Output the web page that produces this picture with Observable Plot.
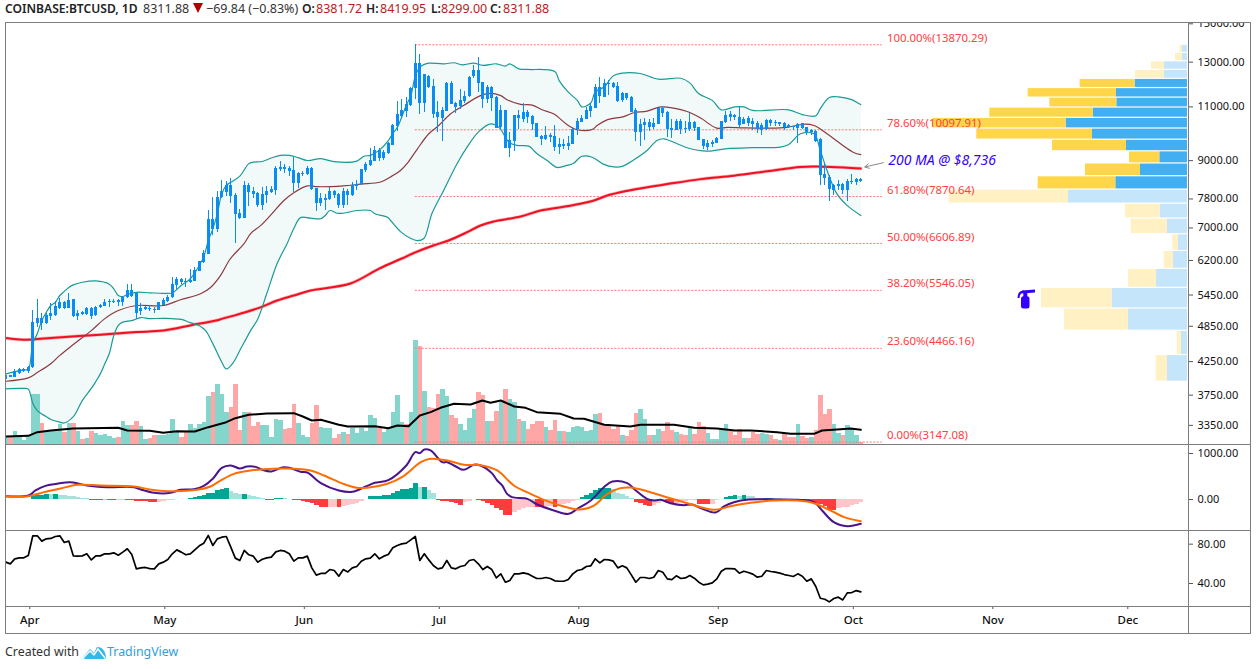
<!DOCTYPE html>
<html><head><meta charset="utf-8">
<script src="https://cdn.jsdelivr.net/npm/d3@7"></script>
<script src="https://cdn.jsdelivr.net/npm/@observablehq/plot@0.6"></script>
<style>
html,body{margin:0;padding:0;background:#fff;overflow:hidden}
#chart{position:relative;width:1258px;height:669px;font-family:"Noto Sans",sans-serif}
.abs{position:absolute}
.line{position:absolute;background:#7d7d7d}
#head{position:absolute;left:0;top:0;width:1258px;height:22px;background:#fff;z-index:5}
#head span{position:absolute;top:0;line-height:17px;font-size:12.5px;white-space:nowrap;color:#333}
#head .b{font-weight:600;color:#222;font-size:12.1px}
#head .r{color:#b71c1c}
</style></head><body><div id="chart"></div>
<script>
// Days are counted from 1 April 2019; candles run from 27 March (-5) to 3 October (185).
const firstDay = -5;
const high = [4050,4040,4125,4145,4135,4175,5143,5358,5080,5090,5270,5325,5370,5310,5490,5360,5143,5130,5200,5210,5230,5265,5350,5365,5360,5365,5410,5660,5660,5500,5275,5230,5240,5195,5305,5375,
5440,5825,5825,5795,5790,5995,6030,6185,6434,7470,7850,8020,8357,8335,8410,7960,7490,8335,8270,8130,8000,8150,8165,8185,8820,8970,8875,8790,9090,8620,8650,8820,
8770,8110,7955,7925,8130,8060,7960,8100,8070,8280,8357,8720,8940,9415,9490,9415,9335,9640,10290,11240,11300,11380,11830,13870,13400,12420,12360,12200,
11220,10960,12060,12100,11190,11740,11670,12310,12840,13210,12070,11900,11880,11420,11060,10870,10010,10650,10860,11130,10855,10650,10340,9900,10240,9950,10260,9770,9730,9850,10180,
10520,10650,10960,11120,11950,12270,12180,12141,12070,12030,11620,11580,11430,10920,10480,10540,10480,10540,10950,11000,10820,10480,10480,10500,10420,10730,10420,10190,9750,9700,9700,9820,
10430,10830,10830,10680,11020,10580,10610,10550,10420,10330,10490,10490,10456,10390,10380,10300,10240,10330,10350,10180,10110,10080,9790,8910,8510,8235,8357,8250,8400,8540,8430,8419.95];
const bodyTop = [4030,4030,4100,4120,4125,4155,4925,4985,4995,5040,5080,5220,5300,5295,5340,5350,5085,5100,5190,5190,5210,5250,5300,5310,5325,5340,5395,5540,5540,5490,5175,5195,5190,5170,5290,5340,
5395,5660,5765,5765,5740,5750,5970,6175,6365,7220,7220,7840,8010,8200,8210,7910,7380,8205,8205,8030,7970,7930,8020,8080,8740,8760,8780,8740,8675,8590,8590,8730,
8745,8100,7800,7800,8020,8010,7940,8020,8010,8200,8230,8700,8880,9005,9350,9350,9275,9585,10260,10695,10855,11090,11800,12950,12950,12400,12340,11890,
10770,10850,12020,12020,11155,11270,11450,12270,12600,12600,12060,11810,11840,11400,10855,10855,9700,10650,10650,10780,10780,10600,10330,9850,9890,9900,9850,9550,9560,9600,10120,
10420,10520,10855,11000,11840,11840,11990,12010,12010,11870,11580,11570,11410,10855,10300,10390,10390,10350,10940,10940,10780,10140,10420,10420,10140,10390,10380,10180,9740,9600,9640,9780,
10420,10670,10680,10640,10580,10490,10520,10420,10350,10260,10470,10456,10390,10370,10340,10260,10220,10300,10330,10170,10070,10040,9730,8540,8460,8210,8230,8230,8325,8325,8400,8381.72];
const bodyBottom = [3970,4010,4010,4070,4095,4090,4150,4905,4905,4905,5035,5040,5190,5180,5190,5025,5025,5060,5060,5030,5040,5210,5230,5290,5295,5295,5305,5390,5410,5085,5130,5155,5155,5150,5150,5250,
5325,5390,5650,5710,5700,5700,5730,5955,6150,6350,6960,6960,7840,7990,7870,7360,7240,7250,8000,7940,7620,7620,7900,7985,8050,8700,8720,8640,8260,8270,8540,8560,
8075,7675,7660,7770,7780,7910,7620,7620,7900,7910,8165,8220,8675,8830,8985,9060,9060,9230,9530,10210,10630,10825,11040,11770,11150,11150,11810,10700,
10560,10550,10825,11090,10960,11000,11240,11450,12300,12020,11300,11300,11370,10140,10180,9410,9430,9670,10520,10480,10570,10300,9810,9750,9750,9800,9470,9470,9490,9490,9570,
10100,10370,10490,10825,10940,11450,11410,11950,11840,11240,11270,11340,10780,9990,9990,10260,10180,10180,10300,10730,10100,10070,10070,10100,10100,10110,10140,9700,9490,9470,9560,9600,
9750,10370,10580,10560,10260,10300,10350,10290,10100,10070,10100,10350,10340,10300,10190,10180,10180,10150,10150,9980,9980,9670,8510,8410,8075,8050,8170,8050,8050,8290,8300,8311.88];
const low = [3920,4000,4005,4050,4080,4070,4140,4820,4770,4880,4954,5030,5170,5165,5180,5010,4954,5040,5045,4965,5030,5180,5225,5195,5275,5220,5220,5380,5390,4965,5045,5143,5125,5080,5140,5240,
5300,5380,5555,5660,5600,5690,5725,5945,6140,6340,6800,6890,7810,7860,7675,6610,7225,7240,7590,7800,7550,7470,7660,7950,7900,8650,8570,8480,7980,8100,8490,8530,
8060,7450,7580,7470,7770,7820,7530,7530,7620,7885,8051,8210,8620,8820,8965,8960,8995,9220,9520,10050,10520,10580,11030,11300,10700,10780,11790,10550,
10010,9680,10810,11080,10730,10910,11160,11410,12220,11620,10940,11120,10810,10130,10100,9400,9090,9325,10100,10370,10330,10070,9800,9520,9710,9640,9310,9200,9370,9348,9550,
9880,10360,10480,10580,10930,11120,11400,11470,11770,11170,11190,11270,10770,9680,9490,9700,10030,10100,10290,10580,9810,9770,10060,9920,9960,10040,10040,9690,9370,9330,9450,9590,
9740,10330,10400,10456,10190,10290,10240,10073,9950,9890,10090,10210,10230,10230,10073,10140,10073,9580,10100,9890,9890,9640,8200,8200,7735,7900,8051,7935,7735,8230,8200,8299];

const volume = [24,20,39,24,12,24,149,150,63,39,39,39,60,37,62,62,39,15,19,39,33,27,30,25,19,21,69,57,57,69,54,15,19,26,26,26,
29,75,37,21,37,60,47,60,66,145,156,180,150,96,111,180,42,96,96,54,65,57,57,21,75,72,45,49,120,63,27,22,
63,116,51,49,48,18,30,36,30,49,33,49,39,87,78,49,36,45,96,146,66,59,96,312,294,159,111,109,
150,165,144,87,78,60,42,78,105,156,147,69,69,99,126,165,135,126,75,69,45,60,69,69,51,42,72,39,39,36,50,
54,50,39,42,90,93,60,54,45,57,27,24,42,93,105,75,27,27,45,39,66,42,36,30,27,51,30,66,54,33,15,15,
42,60,39,27,45,18,18,36,30,33,30,27,15,12,33,21,21,60,24,18,21,42,147,90,105,60,33,27,57,45,27,7];
const volumeColors = [
"t","r","t","t","t","t","t","t","r","t","t","t","t","r","t","r","t","r","t","r","t","t","t","t","t","r","t","t","r","r","t","t","r","r","t","t",
"t","t","t","r","r","t","t","t","t","t","r","t","t","t","r","r","r","t","r","r","r","t","t","t","t","t","r","r","r","t","t","t",
"r","r","t","t","t","r","r","t","r","t","t","t","t","t","t","r","t","t","t","t","t","r","t","t","r","t","r","r",
"r","t","t","r","r","t","t","t","t","r","r","t","r","r","t","r","t","t","r","t","r","r","r","r","t","r","r","t","r","t","t",
"t","t","t","t","t","r","r","r","r","r","t","r","r","r","t","t","r","t","t","r","r","r","t","r","r","t","r","r","r","t","t","t",
"t","t","r","r","r","t","r","r","r","t","t","r","r","t","r","r","r","t","r","r","t","r","r","r","r","t","t","r","t","t","t","r"];
const volumeAvgDays = [-5,0,2,5,10,20,22,27,30,33,37,40,44,46,49,53,59,61,63,65,69,71,77,80,82,84.5,87,89.4,91.6,94.6,98.3,100.9,102.7,105,108,110.5,113,118.3,121.2,123.5,128,133.8,136,143.5,148,153,157,160.5,166.4,169.4,174.6,176.4,180.5,182.7,185];
const volumeAvg = [24,26,37,42,48,50,42,41,35,40,39,52,67,79,89,93,94,84,72,74,59,54,55,49,57,55,87,97,110,122,120,132,125,132,114,110,97,92,78,77,59,54,59,59,50,48,42,42,37,32,32,42,46,48,44];

const upperDays = [-5,-1,0,1,2,3,4,5,6,7,8,9,10,12,15,18,19,20,21,22,24,27,30,32,34,36,38,39,40,41,42,43,44,45,47,49,50,52,54,56,58,60,62,65,68,73,74.6,76,78,80,81,82,84,85,86,87,88,89,92.3,94.6,96.4,99,101,104,106,107,109,111,117,118,120,122,123,125,126,128,130,132,136,140,145,147,149,152,154,157,159,161,169,172,175,176,178,180,183,185];
const upperBand = [4060,4120,4130,4545,4720,4954,5110,5240,5300,5440,5525,5605,5660,5715,5745,5675,5575,5440,5420,5460,5505,5495,5485,5495,5650,5790,6085,6290,6680,6975,7380,7955,8205,8300,8495,8900,8950,8970,9090,9180,9180,9100,9005,9065,8965,8985,9150,9180,9360,9700,9965,10190,11065,11470,12340,12750,12890,12950,12920,12970,12870,12950,12840,12920,12810,12920,12680,12650,12550,12120,11620,11270,11000,11160,11630,11860,12350,12480,12460,12200,12240,12030,11550,11270,10880,11000,11000,10855,10880,10690,10640,10930,11390,11420,11300,11090];
const lowerDays = [-5,-1,0,1,2,4,5,7,8,10,12,14,15,16,17,18,19,20,21,23,25,27,30,34,36,38,39.4,41,43,44,45.6,47,49.4,51,53,55.3,57.5,59,60.5,62.7,65,66,67,68.6,70,73,76,77,79.8,80.5,82.7,85,86.4,87.9,89.7,92.3,95.3,97.5,100,102.7,104.6,106.8,108.6,111.2,113,115.3,117.5,119.7,121.2,123,125.3,127.9,130.1,132,134.6,137.5,139.7,141.2,144.2,146.4,150.8,155.3,161.2,167.1,169,171.6,174.6,176,177.5,179.7,182,185];
const lowerBand = [3840,3845,3835,3635,3540,3460,3425,3390,3380,3460,3675,3845,3945,4060,4215,4380,4685,4865,4925,4954,5010,4990,4995,4975,4915,4860,4772,4545,4240,4135,4240,4429,4772,4985,5480,6130,6600,6985,7275,7260,7245,7335,7471,7395,7395,7471,7471,7380,7285,7197,6905,6730,6679,6730,7390,8051,8905,9465,10010,10325,10190,9640,9525,9500,9245,9005,8775,8840,8915,9150,9115,8875,8790,8810,9030,9348,9703,9765,9585,9445,9325,9410,9445,9465,9560,9950,9950,9348,8675,7950,7610,7335];
const basisDays = [-5,0,2,5,7,10,14,17,20,24,30,33.8,38.3,40.5,42.7,44.9,47.9,49.4,51.6,53.8,56.8,59,62,64.2,70,73.8,78.3,80.5,82.7,84.2,86.4,89,91.2,93.8,96.8,100.5,102.7,105,106.4,109.4,112,114.2,116.8,119.7,122,125.3,126.4,128.6,132.3,134.5,137.5,140.5,143.4,146.4,149.4,153,155.3,159,164.2,168.6,172.3,174.6,177.5,180.5,183.4,185];
const basis = [3950,4000,4080,4215,4350,4530,4772,4990,5143,5240,5240,5355,5475,5605,5860,6240,6595,6855,7060,7335,7755,7985,8190,8165,8190,8245,8310,8470,8675,8905,9390,9950,10260,10710,11065,11470,11570,11470,11300,11100,11075,10880,10710,10300,10100,10110,10260,10480,10610,10760,10825,11000,10950,10810,10550,10160,10190,10170,10160,10190,10310,10260,9950,9585,9280,9205];
const ma200Days = [-5,-1,2,9,16,24,30,36,42,43,47,51.6,55.3,59,62.7,71.6,78,83,86,90,93.4,97.5,100.5,103.4,109.4,113.8,119.7,124.9,129.4,134.6,142,149.4,156.8,164.2,171.6,176,181.2,185];
const ma200 = [4640,4610,4625,4665,4700,4745,4772,4865,4960,4985,5080,5205,5338,5440,5541,5690,6015,6245,6390,6555,6679,6890,7065,7170,7305,7470,7590,7725,7930,8080,8245,8400,8510,8650,8790,8800,8775,8740];

const fibPct = ["100.00","78.60","61.80","50.00","38.20","23.60","0.00"];
const fibPrice = [13870.29,10097.91,7870.64,6606.89,5546.05,4466.16,3147.08];

const profileEdges = [13870,13456,13043,12629,12215,11802,11388,10974,10561,10147,9733,9320,8906,8492,8079,7665,7251,6838,6424,6010,5597,5183,4769,4356,3942];
const profileUp = [15,15,69,69,157,213,212,282,364,285,183,83,141,215,357,82,60,27,42,93,226,177,18,60];
const profileDown = [8,21,39,87,165,265,201,311,399,347,222,91,165,233,358,104,109,17,28,84,212,192,13,34];
const profileInValueArea = [0,0,0,0,1,1,1,1,1,1,1,1,1,1,0,0,0,0,0,0,0,0,0,0];

const macdDays = [-4.8,0,1.6,3.8,6.4,8.3,10,13,17.5,23.5,25,28,31.6,33.8,36.8,39,41,43,45,47,48.6,50.5,52,54,56.4,58,60.5,62,65,69,72,75,77,80,84,86,87,88,89.4,92,93.1,95,96.8,99,100.5,103,104.2,105.3,106.4,107.5,110.9,113.1,116.8,120.1,122,125,127.9,129.8,133.1,135,137.5,139,140.5,142.7,145.7,147.5,149.8,152.7,154.6,156.8,160.1,166.4,170.9,174.6,176.4,179,182,185];
const macd = [72,87,196,297,341,370,370,305,268,268,218,145,145,210,225,297,450,689,740,674,718,710,645,609,696,689,602,587,355,196,167,283,363,421,740,1030,1008,1088,1066,812,812,718,645,754,740,573,413,305,123,51,14,-109,-239,-312,-203,-22,268,392,355,196,14,-22,-7,-80,-123,-109,-203,-283,-152,-58,0,0,-7,-58,-239,-493,-580,-529];
const signalDays = [-5,0,3.5,7.2,10.9,16,23.5,27,31,37.5,40.5,42.7,45.7,49.4,52.3,57.5,62.7,65.7,70,73,75.3,79.8,83.4,87.2,89.4,93.1,96.8,100.5,104.2,107.9,111.6,114.6,119,122.7,125.7,128.7,131.6,133.8,137.5,141.3,145.7,152.4,156,160.5,165.7,170.9,174.6,178.3,181.3,185];
const signal = [65,72,160,239,319,305,283,218,181,210,283,413,558,631,660,674,631,522,341,254,254,341,508,812,885,848,754,747,631,305,123,-7,-152,-218,-131,123,247,261,181,65,-58,-225,-145,-72,-22,-22,-80,-239,-384,-471];
const macdHist = [0,0,0,0,0,7,65,80,94,101,101,109,94,87,72,58,36,22,14,-20,-22,-24,-22,-23,-25,-22,-15,-22,-29,-36,-44,-51,-58,-65,-60,-44,
-29,-15,0,7,10,20,36,58,87,130,138,188,210,232,174,138,109,112,87,65,36,14,-20,-22,14,16,14,7,-15,-25,-36,-58,
-94,-130,-167,-168,-167,-166,-168,-145,-123,-101,-80,-51,-7,58,65,72,80,94,138,174,210,218,239,341,268,270,196,120,
-15,-36,-37,-72,-94,-130,-72,-44,-7,-15,-51,-80,-130,-203,-239,-348,-349,-275,-239,-203,-181,-167,-168,-181,-167,-160,-167,-145,-109,-94,-36,
-14,36,87,123,196,232,247,248,225,138,109,72,14,-58,-80,-130,-145,-130,-94,-36,-72,-94,-93,-65,-36,-22,-21,-109,-110,-111,-109,-22,
0,51,65,87,65,87,65,64,29,22,23,24,14,13,7,3,-14,-10,-22,-23,-40,-80,-109,-152,-239,-240,-203,-181,-167,-138,-101,-65];

const rsi = [61.7,60,65.1,66.1,66.1,68.5,88.5,88.5,83.1,85.4,85.8,87.8,88.5,81.7,83.1,68.1,67.8,68.1,70.2,64,68.1,68.1,70.2,70.2,71.2,68.8,71.9,75.3,69.5,54.9,55.9,56.3,55.2,54.9,60,61.7,
64.4,70.2,74.2,71.9,69.2,70.2,74.2,78.3,81,88.8,78.7,85.4,87.1,87.8,77,65.8,63.4,73.6,69.2,67.8,61.7,64.7,66.1,66.8,72.2,73.6,72.9,70.2,62.7,66.1,66.1,67.8,
55.9,48.5,50.2,50.2,54.2,53.2,47.4,54.2,51.8,55.9,57.3,62.7,65.1,65.8,70.2,65.1,67.8,69.5,76.3,78.7,80.3,81,84.4,87.8,63.4,70.2,64,58.3,
54.9,55.9,63.4,55.9,54.9,57.3,58.3,63.4,64.4,60,54.2,57.3,54.2,45.7,49.8,41.3,43,49.8,49.8,50.8,49.8,47.4,45.1,45.1,46.1,45.1,42.7,42.3,42.3,44,49.8,
53.2,54.2,57.3,58,65.1,61,64.4,64,62.7,55.9,58,55.9,48.8,41.3,46.1,46.1,45.1,46.4,53.2,51.5,44.7,44,47.8,45.1,45.7,48.1,45.4,41.3,38.6,39.3,40.6,44.7,
52.5,55.2,55.2,54.9,50.5,52.5,51.2,49.5,46.4,47.4,53.2,52.2,51.5,50.5,49.1,48.1,47.1,49.8,47.4,42.3,44.7,36.9,25,24,21.3,24.7,26.1,23.3,30.5,30.8,32.8,31.5];

const priceTicks = [15000,13000,11000,9000,7800,7000,6200,5450,4850,4250,3750,3350];
const macdTicks = [1000,0];
const rsiTicks = [80,40];
const monthLabels = ["Apr","May","Jun","Jul","Aug","Sep","Oct","Nov","Dec"];
const monthStarts = [0,30,61,91,122,153,183,214,244];

const DAY = 864e5, T0 = Date.UTC(2019,3,1);
const date = d => new Date(T0 + d * DAY);
const xDomain = [date(-4.956), date(257.82)];
const pairs = (days, vals) => days.map((d,i) => ({x: date(d), y: vals[i]}));
const FONT = '"Noto Sans",sans-serif';
const base = {width:1258, height:669, marginLeft:5.5, marginRight:70, x:{axis:null, type:"utc", domain:xDomain},
  style:{position:"absolute", left:"0", top:"0", background:"transparent", fontFamily:FONT, fontSize:"11px", overflow:"visible"}};

const candles = high.map((h,i) => ({x: date(firstDay+i), high:h, top:bodyTop[i], bottom:bodyBottom[i], low:low[i]}));
const volRows = volume.map((v,i) => ({x: date(firstDay+i), v, up: volumeColors[i]==="t"}));
const histRows = macdHist.map((v,i) => ({x: date(firstDay+i), v, prev: i? macdHist[i-1]:0}));
const rsiRows = rsi.map((v,i) => ({x: date(firstDay+i), y:v}));
const upperRows = pairs(upperDays, upperBand), lowerRows = pairs(lowerDays, lowerBand);
const bandPolygon = [...upperRows, ...lowerRows.slice().reverse()];
const fibRows = fibPct.map((p,i) => ({pct:p, price:fibPrice[i], label:`${p}%(${fibPrice[i].toFixed(2)})`}));
const profileRows = profileUp.map((u,i) => ({up:u, down:profileDown[i], top:profileEdges[i], bottom:profileEdges[i+1], va:profileInValueArea[i]}));

const priceY = {type:"log", domain:[3119,15045], axis:null};
const smooth = "catmull-rom";
const root = document.getElementById("chart");

// volume pane
root.append(Plot.plot({...base, marginTop:22.5, marginBottom:225,
  y:{domain:[0,1264.5], axis:null},
  marks:[
    Plot.ruleX(volRows,{x:"x", y1:0, y2:"v", stroke:d=>d.up?"#84d6cc":"#ffa6a6", strokeWidth:4.6, shapeRendering:"crispEdges", clip:true}),
    Plot.line(pairs(volumeAvgDays, volumeAvg),{x:"x", y:"y", stroke:"#000", strokeWidth:2, clip:true})
  ]}));

// visible-range volume profile
root.append(Plot.plot({...base, marginTop:22.5, marginBottom:225,
  x:{axis:null, domain:[3544,-3]}, y:priceY,
  marks:[
    Plot.rect(profileRows,{x1:0, x2:"up", y1:"bottom", y2:"top", insetTop:0.6, insetBottom:0.6, fill:d=>d.va?"#42aff2":"#c5e5fb"}),
    Plot.rect(profileRows,{x1:"up", x2:d=>d.up+d.down, y1:"bottom", y2:"top", insetTop:0.6, insetBottom:0.6, fill:d=>d.va?"#ffd54a":"#fff1c4"})
  ]}));

// price pane
root.append(Plot.plot({...base, marginTop:22.5, marginBottom:225, y:priceY,
  marks:[
    Plot.line(bandPolygon,{x:"x", y:"y", fill:"#1a9a94", fillOpacity:0.06, stroke:"none", clip:true}),
    Plot.ruleY(fibRows,{y:"price", x1:date(86), x2:date(189.8), stroke:"#f77", strokeWidth:1, strokeDasharray:"2,1.5"}),
    Plot.line(pairs(ma200Days, ma200),{x:"x", y:"y", stroke:"#f9b4b8", strokeWidth:3.4, curve:smooth, clip:true}),
    Plot.line(pairs(ma200Days, ma200),{x:"x", y:"y", stroke:"#ee1122", strokeWidth:2, curve:smooth, clip:true}),
    Plot.line(upperRows,{x:"x", y:"y", stroke:"#1a9a94", strokeWidth:1.2, curve:smooth, clip:true}),
    Plot.line(lowerRows,{x:"x", y:"y", stroke:"#1a9a94", strokeWidth:1.2, curve:smooth, clip:true}),
    Plot.line(pairs(basisDays, basis),{x:"x", y:"y", stroke:"#8c3a3f", strokeWidth:1.2, curve:smooth, clip:true}),
    Plot.ruleX(candles,{x:"x", y1:"low", y2:"high", stroke:"#0a8cf5", strokeWidth:1, shapeRendering:"crispEdges", clip:true}),
    Plot.ruleX(candles,{x:"x", y1:"bottom", y2:"top", stroke:"#0a8cf5", strokeWidth:3, shapeRendering:"crispEdges", clip:true}),
    Plot.text(fibRows,{x:date(190.8), y:"price", text:"label", dy:-6.5, textAnchor:"start", fill:"#ff4040", fontSize:11.4}),
    Plot.arrow([{x1:date(190), y1:8930, x2:date(185.9), y2:8790}],{x1:"x1", y1:"y1", x2:"x2", y2:"y2", stroke:"#8a8a8a", strokeWidth:1, headLength:7, bend:0}),
    Plot.text(["200 MA @ $8,736"],{x:date(191.1), y:9005, text:d=>d, textAnchor:"start", fill:"#3300ff", fontSize:14, fontStyle:"italic"}),
    Plot.axisY({anchor:"right", ticks:priceTicks, tickFormat:d3.format(".2f"), tickSize:4, tickPadding:5, label:null, stroke:"#555", fill:"#111", fontSize:11})
  ]}));

// MACD pane
root.append(Plot.plot({...base, marginTop:444, marginBottom:139,
  y:{domain:[-674,1196], axis:null},
  marks:[
    Plot.ruleX(histRows,{x:"x", y1:0, y2:"v", strokeWidth:4.6, shapeRendering:"crispEdges",
      stroke:d=>d.v>=0?(d.v>d.prev?"#00a594":"#a8e0da"):(d.v<d.prev?"#ff3b3b":"#ffc6c9")}),
    Plot.line(pairs(macdDays, macd),{x:"x", y:"y", stroke:"#4a148c", strokeWidth:2, curve:smooth, clip:true}),
    Plot.line(pairs(signalDays, signal),{x:"x", y:"y", stroke:"#ff6d00", strokeWidth:2, curve:smooth, clip:true}),
    Plot.axisY({anchor:"right", ticks:macdTicks, tickFormat:d3.format(".2f"), tickSize:4, tickPadding:5, label:null, stroke:"#555", fill:"#111", fontSize:11})
  ]}));

// RSI pane and time axis
root.append(Plot.plot({...base, marginTop:530, marginBottom:63,
  y:{domain:[16.6,93.9], axis:null},
  marks:[
    Plot.line(rsiRows,{x:"x", y:"y", stroke:"#000", strokeWidth:1.7, clip:true}),
    Plot.axisY({anchor:"right", ticks:rsiTicks, tickFormat:d3.format(".2f"), tickSize:4, tickPadding:5, label:null, stroke:"#555", fill:"#111", fontSize:11}),
    Plot.axisX({anchor:"bottom", ticks:monthStarts.map(d=>date(d+1/3)), tickFormat:(d,i)=>monthLabels[i], tickSize:3, tickPadding:6, label:null, stroke:"#555", fill:"#111", fontSize:11.5, fontWeight:500})
  ]}));

// pane frames
[[5,22,1246,1],[5,633,1246,1],[5,444,1246,1],[5,530,1246,1],[5,606,1246,1],[5,22,1,612],[1188,22,1,612],[1250,22,1,612]].forEach(([l,t,w,h])=>{
  const e=document.createElement("div"); e.className="line";
  e.style.cssText+=`left:${l}px;top:${t}px;width:${w}px;height:${h}px;z-index:6`; root.append(e);
});

// header
const head=document.createElement("div"); head.id="head";
head.innerHTML=`<span class="b" style="left:5px">COINBASE:BTCUSD, 1D</span><span style="left:143px">8311.88</span>
<svg class="abs" style="left:193px;top:3px" width="11" height="11"><path d="M0 0H10L5 10Z" fill="#b00000"/></svg>
<span style="left:206px">\u221269.84 (\u22120.83%)</span>
<span class="b" style="left:302px">O:</span><span class="r" style="left:316px">8381.72</span>
<span class="b" style="left:366px">H:</span><span class="r" style="left:380px">8419.95</span>
<span class="b" style="left:431px">L:</span><span class="r" style="left:441px">8299.00</span>
<span class="b" style="left:490px">C:</span><span class="r" style="left:503px">8311.88</span>`;
root.append(head);

// fire-extinguisher icon
const icon=document.createElement("div"); icon.className="abs"; icon.style.cssText="left:1017px;top:289px;z-index:4";
icon.innerHTML=`<svg width="19" height="20" viewBox="0 0 19 20"><g fill="#3300ff"><rect x="4" y="7.2" width="8.5" height="12.3" rx="2.5"/><rect x="6.3" y="2.5" width="4" height="5.5"/><path d="M5.5 1.6 18 .6V3.6L5.5 4.4Z"/><path d="M7 1.6C2.8 1.6.8 3.6.6 9H2.6C2.8 5 4.2 4 7 4Z"/></g></svg>`;
root.append(icon);

// footer
const foot=document.createElement("div"); foot.className="abs"; foot.style.cssText="left:5px;top:643px;font-size:12.4px;line-height:18px;color:#333;white-space:nowrap";
foot.textContent="Created with";
root.append(foot);
const logo=document.createElement("div"); logo.className="abs"; logo.style.cssText="left:82px;top:643px";
logo.innerHTML=`<svg width="25" height="16" viewBox="0 0 25 16"><path d="M1 13 8 5l4 4 3-6c5 0 8 3 9 10 0 1-1 2-2 2H4C2 15 1 14 1 13Z" fill="#37b6e9"/><path d="M1 14 8 7l4 4 4-6 7 9" fill="none" stroke="#fff" stroke-width="1.4"/></svg>`;
root.append(logo);
const tv=document.createElement("div"); tv.className="abs"; tv.style.cssText="left:107px;top:643px;font-size:12.4px;line-height:18px;color:#2e9fdc;white-space:nowrap";
tv.textContent="TradingView";
root.append(tv);
</script></body></html>
